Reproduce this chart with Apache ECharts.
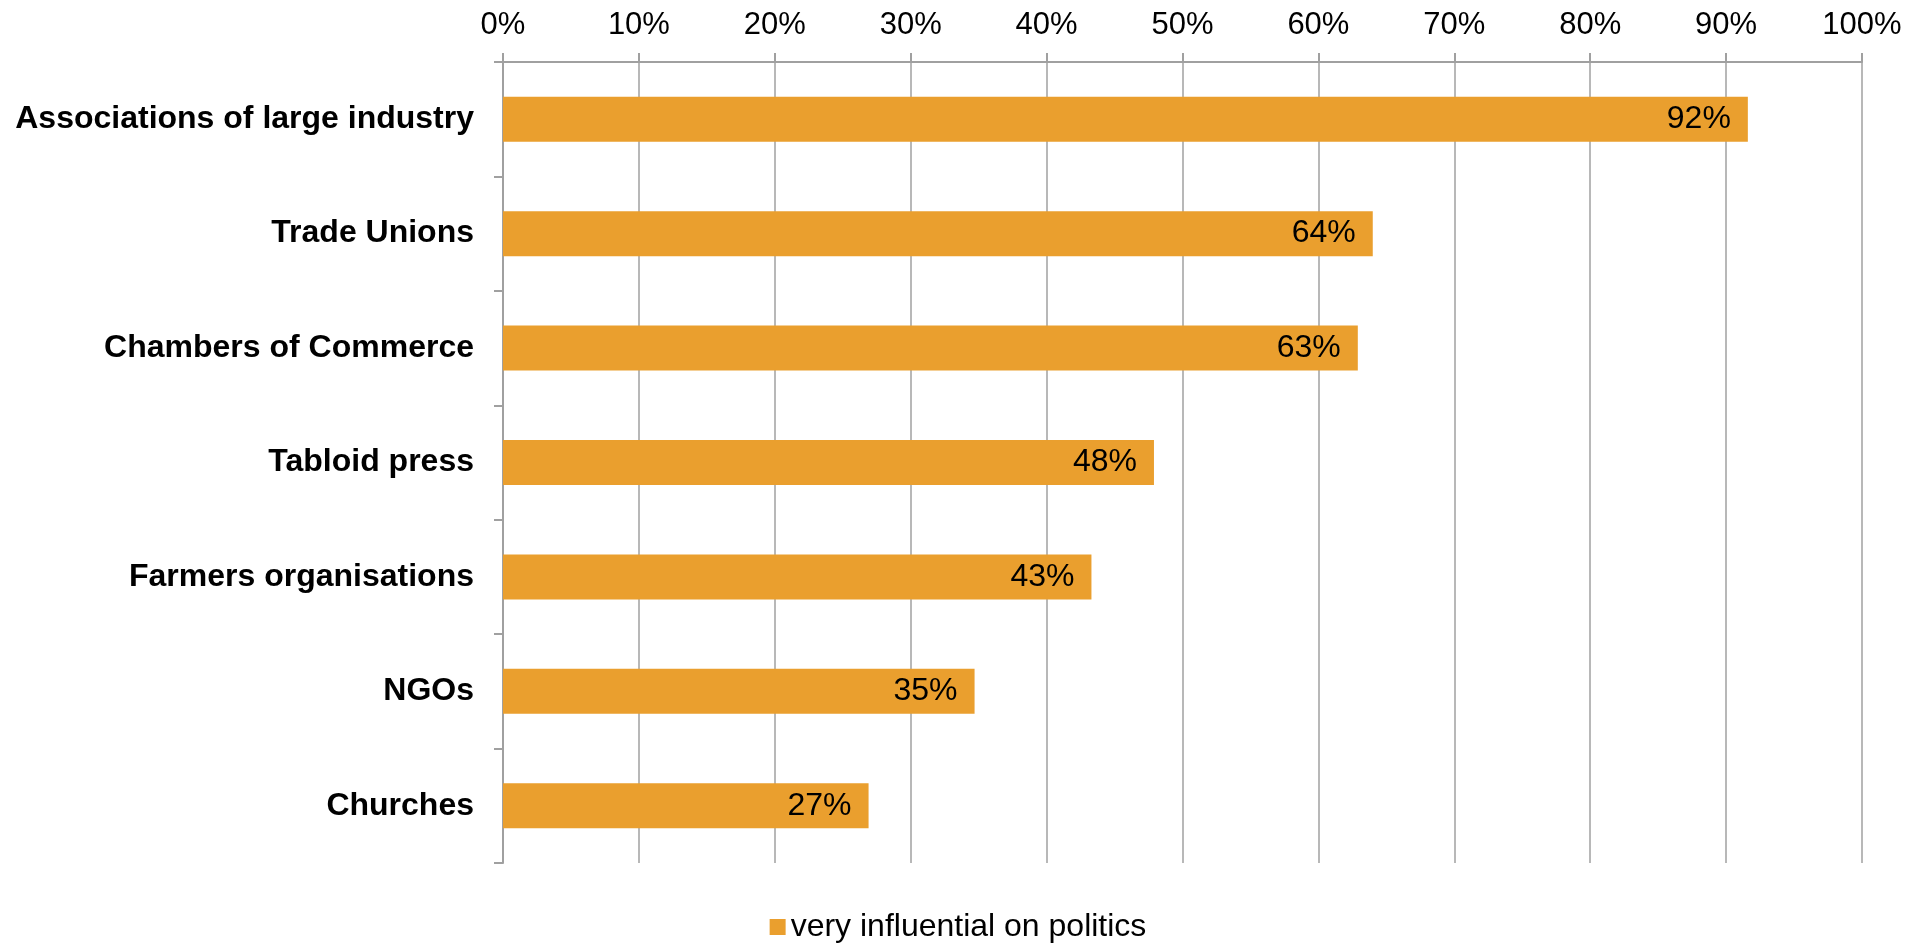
<!DOCTYPE html>
<html>
<head>
<meta charset="utf-8">
<script src="https://cdn.jsdelivr.net/npm/echarts@6/dist/echarts.min.js"></script>
<style>
  html, body { margin: 0; padding: 0; background: #fff; }
  #main { width: 1916px; height: 944px; }
</style>
</head>
<body>
<div id="main"></div>
<script>
var categories = ['Associations of large industry', 'Trade Unions', 'Chambers of Commerce',
                  'Tabloid press', 'Farmers organisations', 'NGOs', 'Churches'];
var influential = [91.6, 64.0, 62.9, 47.9, 43.3, 34.7, 26.9];
var seriesName = 'very influential on politics';

var gray = '#a0a0a0';
var font = 'Liberation Sans, Arial, sans-serif';

var chart = echarts.init(document.getElementById('main'));

chart.setOption({
  animation: false,
  grid: { left: 503, right: 54, top: 62, bottom: 81, containLabel: false },
  legend: {
    top: 906,
    left: 'center',
    itemWidth: 16,
    itemHeight: 16,
    icon: 'rect',
    itemGap: 6,
    textStyle: { fontFamily: font, fontSize: 32, color: '#000' },
    data: [seriesName]
  },
  xAxis: {
    type: 'value',
    position: 'top',
    min: 0,
    max: 100,
    interval: 10,
    axisLine: { show: true, lineStyle: { color: gray, width: 2 } },
    axisTick: { show: true, length: 9, lineStyle: { color: gray, width: 2 } },
    splitLine: { show: true, lineStyle: { color: gray, width: 1.5 } },
    axisLabel: {
      margin: 21,
      fontFamily: font,
      fontSize: 31,
      color: '#000',
      formatter: '{value}%'
    }
  },
  yAxis: {
    type: 'category',
    inverse: true,
    data: categories,
    axisLine: { show: true, lineStyle: { color: gray, width: 2 } },
    axisTick: { show: true, length: 9, lineStyle: { color: gray, width: 2 } },
    axisLabel: {
      margin: 29,
      fontFamily: font,
      fontSize: 32,
      fontWeight: 'bold',
      color: '#000'
    }
  },
  series: [{
    name: seriesName,
    type: 'bar',
    data: influential,
    barWidth: 45,
    itemStyle: { color: '#EA9F2E' },
    label: {
      show: true,
      position: 'insideRight',
      distance: 17,
      fontFamily: font,
      fontSize: 32,
      color: '#000',
      formatter: function (p) { return Math.round(p.value) + '%'; }
    }
  }]
});
</script>
</body>
</html>
